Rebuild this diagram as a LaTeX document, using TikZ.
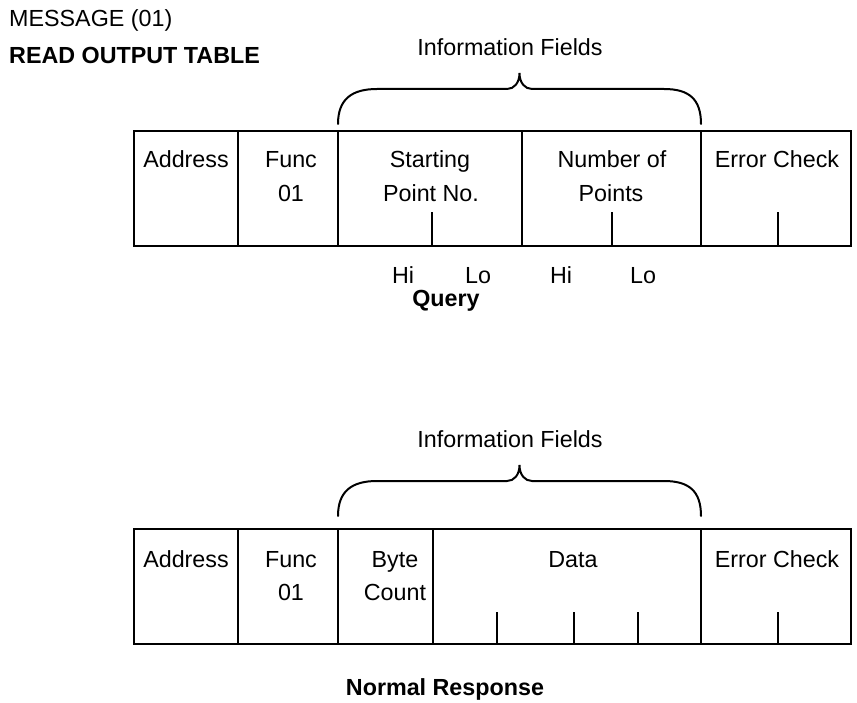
\documentclass[tikz,border=0pt]{standalone}
\usepackage{fontspec}
\setmainfont{Liberation Sans}
\begin{document}
\begin{tikzpicture}[x=1pt,y=-1pt,
  cell/.style={draw=black, line width=2.4pt, inner sep=0pt, outer sep=0pt, minimum height=115pt},
  txt/.style={anchor=base, inner sep=0pt, font=\fontsize{23.3}{28}\selectfont},
  ltxt/.style={anchor=base west, inner sep=0pt, font=\fontsize{23.3}{28}\selectfont},
  btxt/.style={anchor=base, inner sep=0pt, font=\fontsize{23.3}{28}\selectfont\bfseries},
  lbtxt/.style={anchor=base west, inner sep=0pt, font=\fontsize{23.3}{28}\selectfont\bfseries},
  tickline/.style={line width=2.2pt},
  bracepath/.style={line width=2pt, line cap=round}
]
\useasboundingbox (0,0) rectangle (857,703);

% titles
\node[ltxt] (t1) at (9,27) {MESSAGE (01)};
\node[lbtxt] (t2) at (9,64) {READ OUTPUT TABLE};

% ---------------- Query ----------------
\node[txt] (qinfo) at (510,56) {Information Fields};
\node[cell, minimum width=104pt] (qa) at (186,188.5) {};
\node[cell, minimum width=100pt] (qf) at (288,188.5) {};
\node[cell, minimum width=184pt] (qs) at (430,188.5) {};
\node[cell, minimum width=179pt] (qn) at (611.5,188.5) {};
\node[cell, minimum width=150pt] (qe) at (776,188.5) {};

\coordinate (qb1) at (338,124);
\coordinate (qb2) at (701,124);
\draw[bracepath] (qb1) .. controls (338,99) and (352,89) .. (377,89) -- (507,89)
  .. controls (514,89) and (519.5,83) .. (519.5,73)
  .. controls (519.5,83) and (525,89) .. (532,89) -- (664,89)
  .. controls (689,89) and (701,99) .. (qb2);

\node[txt] (qat) at (186,168) {Address};
\node[txt] (qft1) at (291,168) {Func};
\node[txt] (qft2) at (291,202) {01};
\node[txt] (qst1) at (430,168) {Starting};
\node[txt] (qst2) at (431,202) {Point No.};
\node[txt] (qnt1) at (612,168) {Number of};
\node[txt] (qnt2) at (611,202) {Points};
\node[txt] (qet) at (777,168) {Error Check};

\draw[tickline] (qs.south -| 432,0) -- (432,212);
\draw[tickline] (qn.south -| 612,0) -- (612,212);
\draw[tickline] (qe.south -| 778,0) -- (778,212);

\node[txt] (h1) at (403,284) {Hi};
\node[txt] (l1) at (478,284) {Lo};
\node[txt] (h2) at (561,284) {Hi};
\node[txt] (l2) at (643,284) {Lo};
\node[btxt] (query) at (446,307) {Query};

% ---------------- Response ----------------
\node[txt] (rinfo) at (510,447) {Information Fields};
\node[cell, minimum width=104pt] (ra) at (186,586.5) {};
\node[cell, minimum width=100pt] (rf) at (288,586.5) {};
\node[cell, minimum width=95pt] (rb) at (385.5,586.5) {};
\node[cell, minimum width=268pt] (rd) at (567,586.5) {};
\node[cell, minimum width=150pt] (re) at (776,586.5) {};

\coordinate (rb1) at (338,516);
\coordinate (rb2) at (701,516);
\draw[bracepath] (rb1) .. controls (338,491) and (352,481) .. (377,481) -- (507,481)
  .. controls (514,481) and (519.5,475) .. (519.5,465)
  .. controls (519.5,475) and (525,481) .. (532,481) -- (664,481)
  .. controls (689,481) and (701,491) .. (rb2);

\node[txt] (rat) at (186,567) {Address};
\node[txt] (rft1) at (291,567) {Func};
\node[txt] (rft2) at (291,600) {01};
\node[txt] (rbt1) at (395,567) {Byte};
\node[txt] (rbt2) at (395,600) {Count};
\node[txt] (rdt) at (573,567) {Data};
\node[txt] (ret) at (777,567) {Error Check};

\draw[tickline] (rd.south -| 497,0) -- (497,612);
\draw[tickline] (rd.south -| 574,0) -- (574,612);
\draw[tickline] (rd.south -| 638,0) -- (638,612);
\draw[tickline] (re.south -| 778,0) -- (778,612);

\node[btxt] (nresp) at (445,695) {Normal Response};
\end{tikzpicture}
\end{document}
